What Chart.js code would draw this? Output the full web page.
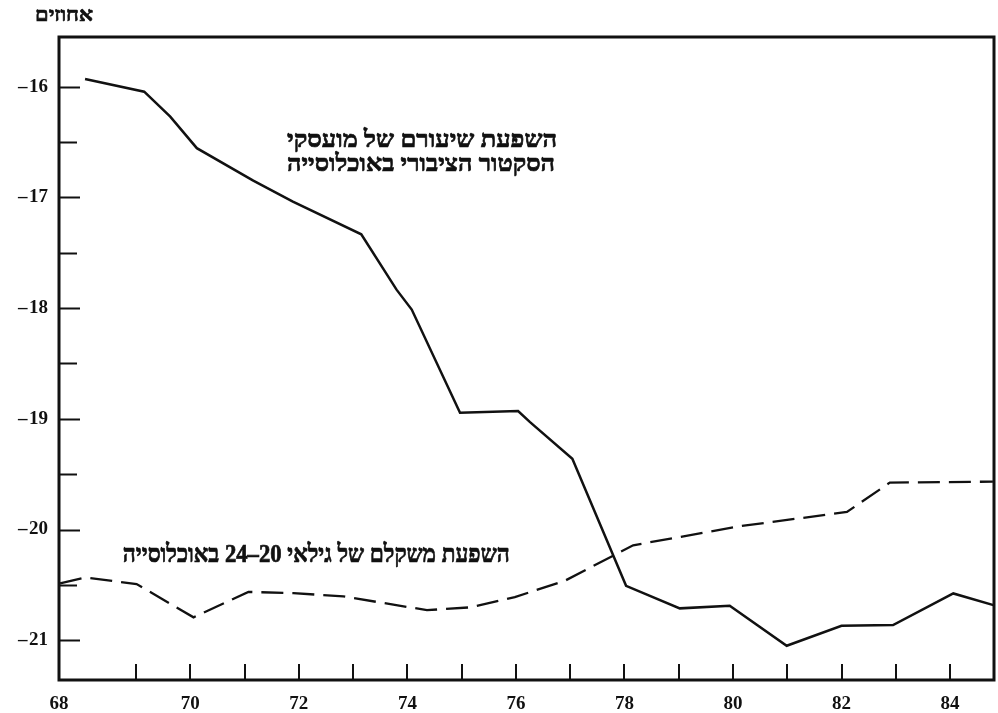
<!DOCTYPE html>
<html><head><meta charset="utf-8">
<script src="https://cdn.jsdelivr.net/npm/chart.js@4.4.0/dist/chart.umd.min.js"></script>
<style>html,body{margin:0;padding:0;background:#fff}#wrap{width:998px;height:713px}</style>
</head><body><div id="wrap"><canvas id="c" width="998" height="713"></canvas></div>
<script>
// ---- data ----
const publicSectorYears  = [68.06, 69.15, 69.63, 70.12, 71.16, 71.89, 73.15, 73.80, 74.08, 74.97, 76.04, 76.26, 77.04, 78.03, 79.02, 79.94, 80.99, 82.00, 82.95, 84.06, 84.80];
const publicSectorValues = [-15.93, -16.045, -16.27, -16.555, -16.848, -17.037, -17.333, -17.833, -18.013, -18.945, -18.93, -19.03, -19.36, -20.508, -20.712, -20.689, -21.05, -20.87, -20.863, -20.577, -20.683];
const age2024Years  = [67.60, 68.06, 69.01, 70.06, 71.07, 71.90, 72.82, 74.36, 75.15, 75.98, 76.90, 78.16, 80.13, 82.10, 82.89, 84.79];
const age2024Values = [-20.487, -20.433, -20.493, -20.793, -20.563, -20.574, -20.604, -20.728, -20.703, -20.61, -20.463, -20.142, -19.97, -19.841, -19.576, -19.567];

const xLabelYears  = [68, 70, 72, 74, 76, 78, 80, 82, 84];
const xTickYears   = [69, 70, 71, 72, 73, 74, 75, 76, 77, 78, 79, 80, 81, 82, 83, 84];
const yLabelValues = [-16, -17, -18, -19, -20, -21];
const yTickValues  = [-16, -16.5, -17, -17.5, -18, -18.5, -19, -19.5, -20, -20.5, -21];

const yAxisTitle = 'אחוזים';
const publicSectorLabel = ['השפעת שיעורם של מועסקי', 'הסקטור הציבורי באוכלוסייה'];
const ageLabel = 'השפעת משקלם של גילאי 20–24 באוכלוסייה';

// ---- scale ranges ----
const X_MIN = 67.58, X_MAX = 84.81;
const Y_MIN = -21.359, Y_MAX = -15.551;

const INK = '#111';
const FONT = '"Liberation Serif", "DejaVu Serif", "DejaVu Sans", serif';

// draw RTL text centred at (cx, cy), stretched to a given width, slightly emboldened
function drawFitted(ctx, text, cx, cy, px, width) {
  ctx.save();
  ctx.font = 'bold ' + px + 'px ' + FONT;
  ctx.direction = 'rtl';
  ctx.textAlign = 'center';
  ctx.textBaseline = 'middle';
  const w = ctx.measureText(text).width;
  ctx.translate(cx, cy);
  ctx.scale(width / w, 1);
  ctx.fillStyle = INK;
  ctx.strokeStyle = INK;
  ctx.lineWidth = 0.7;
  ctx.fillText(text, 0, 0);
  ctx.strokeText(text, 0, 0);
  ctx.restore();
}

const decor = {
  id: 'decor',
  afterDraw(chart) {
    const {ctx, chartArea: a, scales: {x, y}} = chart;
    ctx.save();
    ctx.strokeStyle = INK;
    ctx.lineWidth = 2;
    yTickValues.forEach(v => {
      const py = Math.round(y.getPixelForValue(v)) + 0.5;
      ctx.beginPath();
      ctx.moveTo(a.left, py);
      ctx.lineTo(a.left + (Number.isInteger(v) ? 21 : 18), py);
      ctx.stroke();
    });
    xTickYears.forEach(v => {
      const px = Math.round(x.getPixelForValue(v));
      ctx.beginPath();
      ctx.moveTo(px, a.bottom);
      ctx.lineTo(px, a.bottom - 16);
      ctx.stroke();
    });
    ctx.lineWidth = 3;
    ctx.strokeRect(a.left, a.top, a.right - a.left, a.bottom - a.top);
    ctx.restore();

    drawFitted(ctx, yAxisTitle, a.left + 5, a.top - 21, 20, 58);
    const cx = x.getPixelForValue(74.27);
    drawFitted(ctx, publicSectorLabel[0], cx, y.getPixelForValue(-16.485), 24, 270);
    drawFitted(ctx, publicSectorLabel[1], cx - 1, y.getPixelForValue(-16.705), 24, 268);
    drawFitted(ctx, ageLabel, x.getPixelForValue(72.32), y.getPixelForValue(-20.235), 25, 387);
  }
};

new Chart(document.getElementById('c'), {
  type: 'line',
  data: {
    datasets: [
      {
        label: publicSectorLabel.join(' '),
        data: publicSectorYears.map((yr, i) => ({x: yr, y: publicSectorValues[i]})),
        borderColor: INK, borderWidth: 2.5, pointRadius: 0, tension: 0, fill: false
      },
      {
        label: ageLabel,
        data: age2024Years.map((yr, i) => ({x: yr, y: age2024Values[i]})),
        borderColor: INK, borderWidth: 2.3, borderDash: [22, 9], pointRadius: 0, tension: 0, fill: false
      }
    ]
  },
  options: {
    responsive: false,
    animation: false,
    devicePixelRatio: 1,
    layout: {autoPadding: false, padding: {left: 0, right: 4, top: 37, bottom: 0}},
    plugins: {legend: {display: false}, tooltip: {enabled: false}, title: {display: false}},
    scales: {
      x: {
        type: 'linear', min: X_MIN, max: X_MAX,
        grid: {display: false, drawTicks: false},
        border: {display: false},
        afterBuildTicks: s => { s.ticks = xLabelYears.map(v => ({value: v === 68 ? X_MIN : v})); },
        afterFit: s => { s.height = 33; },
        ticks: {
          autoSkip: false, maxRotation: 0, padding: 13, color: INK,
          font: {family: FONT, size: 19, weight: 'bold'},
          callback: (val, i) => String(xLabelYears[i])
        }
      },
      y: {
        type: 'linear', min: Y_MIN, max: Y_MAX,
        grid: {display: false, drawTicks: false},
        border: {display: false},
        afterBuildTicks: s => { s.ticks = yLabelValues.map(v => ({value: v})); },
        afterFit: s => { s.width = 59; },
        ticks: {
          autoSkip: false, padding: 11, color: INK,
          font: {family: FONT, size: 19, weight: 'bold'},
          callback: v => '\u2013\u200a' + Math.abs(v)
        }
      }
    }
  },
  plugins: [decor]
});
</script>
</body></html>
